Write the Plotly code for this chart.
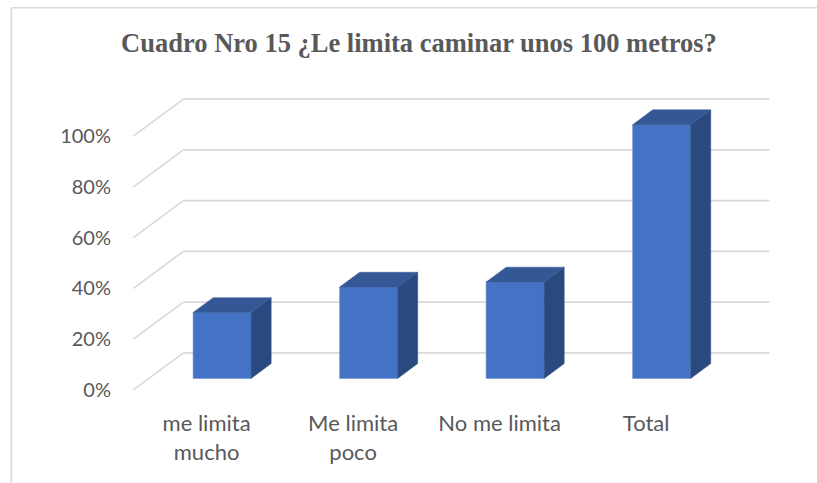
import plotly.graph_objects as go

# ---- data ----
categories = ["me limita<br>mucho", "Me limita<br>poco", "No me limita", "Total"]
values = [26, 36, 38, 100]
y_ticks = [0, 20, 40, 60, 80, 100]
y_tick_labels = ["0%", "20%", "40%", "60%", "80%", "100%"]
title_text = "Cuadro Nro 15 ¿Le limita caminar unos 100 metros?"

# ---- geometry of the pseudo-3D projection ----
W, H = 817, 483
DX = 0.342      # depth offset in category units
DY = 14.6       # depth offset in % units
D_FRONT, D_BACK = 0.31, 0.71
BAR_W = 0.396

X0, X1 = -0.05, 4.4
Y0, Y1 = -2, 117
PX_X, PX_Y = 146.5, 2.54
ORIG_X, ORIG_Y = 133, 390

def xpix(u):
    return ORIG_X + u * PX_X

def ypix(v):
    return ORIG_Y - v * PX_Y

ml = xpix(X0)
mr = W - xpix(X1)
mt = ypix(Y1)
mb = H - ypix(Y0)
plot_w = W - ml - mr
plot_h = H - mt - mb

def paper_x(px):
    return (px - ml) / plot_w

def paper_y(py):
    return (H - mb - py) / plot_h

FRONT = "#4472C4"
TOP = "#345896"
SIDE = "#2a4a7f"
GRID = "#d9d9d9"
TEXT = "#595959"

fig = go.Figure()

# gridlines: back wall + diagonal side wall (drawn below the bars)
shapes = []
for t in y_ticks:
    shapes.append(dict(type="line", xref="x", yref="y", x0=0, y0=t, x1=DX, y1=t + DY,
                       line=dict(color=GRID, width=1.6), layer="below"))
    shapes.append(dict(type="line", xref="x", yref="y", x0=DX, y0=t + DY,
                       x1=len(categories) + DX, y1=t + DY,
                       line=dict(color=GRID, width=1.6), layer="below"))

# bars: front faces
centers = [i + 0.5 + D_FRONT * DX for i in range(len(categories))]
fig.add_trace(go.Bar(x=centers, y=values, base=D_FRONT * DY, width=BAR_W,
                     marker=dict(color=FRONT, line=dict(color="#6a8fd3", width=0.6)),
                     showlegend=False, hoverinfo="skip"))

ddx = (D_BACK - D_FRONT) * DX
ddy = (D_BACK - D_FRONT) * DY
for c, v in zip(centers, values):
    xl, xr = c - BAR_W / 2, c + BAR_W / 2
    yb = D_FRONT * DY
    yt = v + D_FRONT * DY
    # side face
    fig.add_trace(go.Scatter(
        x=[xr, xr, xr + ddx, xr + ddx, xr],
        y=[yb, yt, yt + ddy, yb + ddy, yb],
        fill="toself", fillcolor=SIDE, mode="lines",
        line=dict(color=SIDE, width=0.5),
        hoverinfo="skip", showlegend=False))
    # top face
    fig.add_trace(go.Scatter(
        x=[xl, xr, xr + ddx, xl + ddx, xl],
        y=[yt, yt, yt + ddy, yt + ddy, yt],
        fill="toself", fillcolor=TOP, mode="lines",
        line=dict(color=TOP, width=0.5),
        hoverinfo="skip", showlegend=False))

# chart frame (top and left edges; the rest lies outside the picture)
shapes.append(dict(type="line", xref="paper", yref="paper",
                   x0=paper_x(11), x1=paper_x(W + 20), y0=paper_y(7.5), y1=paper_y(7.5),
                   line=dict(color="#d9d9d9", width=1.5), layer="below"))
shapes.append(dict(type="line", xref="paper", yref="paper",
                   x0=paper_x(11), x1=paper_x(11), y0=paper_y(7.5), y1=paper_y(H + 20),
                   line=dict(color="#d9d9d9", width=1.5), layer="below"))

fig.update_layout(
    width=W, height=H,
    margin=dict(l=ml, r=mr, t=mt, b=mb, pad=0, autoexpand=False),
    paper_bgcolor="white", plot_bgcolor="white",
    title=dict(text=title_text, x=419 / W, xanchor="center",
               y=1 - 43 / H, yanchor="middle",
               font=dict(family="Liberation Serif", size=26.5, color=TEXT, weight="bold")),
    xaxis=dict(range=[X0, X1], tickvals=[i + 0.5 for i in range(len(categories))],
               ticktext=categories, showgrid=False, zeroline=False, showline=False,
               ticks="", ticklabelstandoff=13,
               tickfont=dict(family="Lato", size=22, color=TEXT), fixedrange=True),
    yaxis=dict(range=[Y0, Y1], tickvals=y_ticks, ticktext=y_tick_labels,
               showgrid=False, zeroline=False, showline=False, ticks="",
               ticklabelstandoff=14,
               tickfont=dict(family="Lato", size=20, color=TEXT), fixedrange=True),
    bargap=0,
    shapes=shapes,
)

fig.write_html("out.html",
               config={"displayModeBar": False, "staticPlot": True},
               post_script="document.body.style.margin='0';document.body.style.overflow='hidden';")
